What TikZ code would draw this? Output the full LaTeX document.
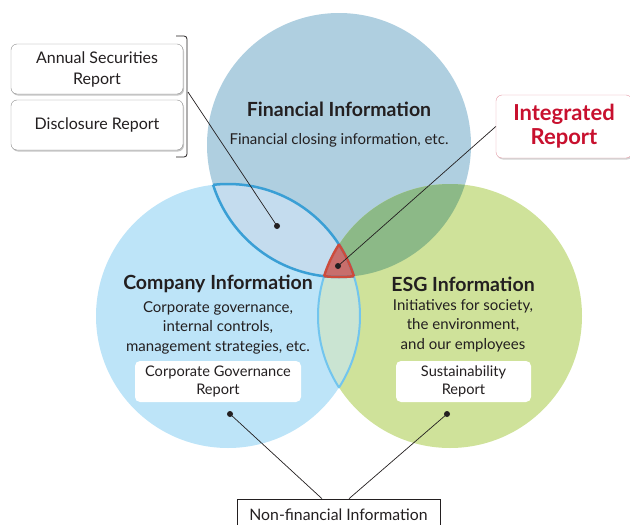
\documentclass[tikz,border=0pt]{standalone}
\usepackage{fontspec}
\setmainfont{Lato}
\usetikzlibrary{positioning,shadows}
\definecolor{finblue}{HTML}{AFCFE0}
\definecolor{compblue}{HTML}{BDE4F8}
\definecolor{esggreen}{HTML}{CFE29A}
\definecolor{fcfill}{HTML}{C4DCEE}
\definecolor{cefill}{HTML}{CAE4D2}
\definecolor{fefill}{HTML}{8CB987}
\definecolor{fcline}{HTML}{3A9FD5}
\definecolor{celine}{HTML}{72C5EE}
\definecolor{trifill}{HTML}{C86E6C}
\definecolor{triline}{HTML}{CE4B3B}
\definecolor{irred}{HTML}{C8102E}
\definecolor{irline}{HTML}{E59AA5}
\definecolor{txt}{HTML}{231F20}

\begin{document}
\begin{tikzpicture}[x=1pt,y=-1pt,
		title/.style={font=\bfseries\fontsize{19.5}{22}\selectfont,text=txt},
		body/.style={font=\fontsize{15}{19.5}\selectfont,align=center,text=txt},
		report/.style={draw=black!45,fill=white,rounded corners=6pt,minimum width=172pt,minimum height=50pt,align=center,
			font=\fontsize{16}{21}\selectfont,text=txt,drop shadow={shadow xshift=1pt,shadow yshift=-1.5pt,opacity=0.45}},
		whitebox/.style={fill=white,rounded corners=5pt,minimum height=41pt,align=center,font=\fontsize{14.6}{18}\selectfont,text=txt},
		intbox/.style={draw=irline,fill=white,rounded corners=6pt,minimum width=136pt,minimum height=63pt,align=center,
			font=\bfseries\fontsize{22}{24}\selectfont,text=irred,drop shadow={shadow xshift=1pt,shadow yshift=-1.5pt,opacity=0.35}},
		nfbox/.style={draw=txt,fill=white,line width=0.6pt,minimum width=203pt,minimum height=32pt,font=\fontsize{15.8}{18}\selectfont,text=txt},
		dot/.style={circle,fill=txt,inner sep=0pt,minimum size=6pt},
		leader/.style={draw=txt,line width=0.7pt}]
	\clip (0,0) rectangle (630,525);
	\coordinate (cf) at (339,145);
	\coordinate (cc) at (228,316);
	\coordinate (ce) at (450,316);
	\def\fincircle{(cf) circle (132pt)}
	\def\compcircle{(cc) circle (132pt)}
	\def\esgcircle{(ce) circle (132pt)}

	% circles and overlaps
	\fill[finblue] \fincircle;
	\fill[compblue] \compcircle;
	\fill[esggreen] \esgcircle;
	\begin{scope}
		\clip \fincircle;
		\fill[fefill] \esgcircle;
		\fill[fcfill] \compcircle;
	\end{scope}
	\begin{scope}
		\clip \compcircle;
		\fill[cefill] \esgcircle;
	\end{scope}
	\begin{scope}
		\clip \fincircle; \clip \compcircle;
		\fill[trifill] \esgcircle;
	\end{scope}
	% lens outlines
	\begin{scope}
		\clip \compcircle;
		\draw[celine,line width=2pt] \esgcircle;
	\end{scope}
	\begin{scope}
		\clip \esgcircle;
		\draw[celine,line width=2pt] \compcircle;
	\end{scope}
	\begin{scope}
		\clip \fincircle;
		\draw[fcline,line width=2.5pt] \compcircle;
	\end{scope}
	\begin{scope}
		\clip \compcircle;
		\draw[fcline,line width=2.5pt] \fincircle;
	\end{scope}
	% triangle outline
	\begin{scope}
		\clip \fincircle; \clip \compcircle;
		\draw[triline,line width=2.5pt] \esgcircle;
	\end{scope}
	\begin{scope}
		\clip \fincircle; \clip \esgcircle;
		\draw[triline,line width=2.5pt] \compcircle;
	\end{scope}
	\begin{scope}
		\clip \compcircle; \clip \esgcircle;
		\draw[triline,line width=2.5pt] \fincircle;
	\end{scope}

	% texts in the circles
	\node[title] (fintitle) at (339,109) {Financial Information};
	\node[body] (finbody) at (339,140) {Financial closing information, etc.};
	\node[title] (comptitle) at (218,284) {Company Information};
	\node[body] (compbody) at (218,327.5) {Corporate governance,\\internal controls,\\management strategies, etc.};
	\node[title] (esgtitle) at (463,284) {ESG Information};
	\node[body] (esgbody) at (463,325.5) {Initiatives for society,\\the environment,\\and our employees};
	\node[whitebox,minimum width=166pt] (cgr) at (218,381.5) {Corporate Governance\\Report};
	\node[whitebox,minimum width=135pt] (susr) at (463.5,381.5) {Sustainability\\Report};

	% reports
	\node[report] (asr) at (97,69) {Annual Securities\\Report};
	\node[report] (dr) at (97,125) {Disclosure Report};
	\node[intbox] (ir) at (564,126.5) {Integrated\\Report};
	\node[nfbox] (nf) at (338.5,515) {Non-financial Information};

	% bracket
	\coordinate (brtop) at (176,36);
	\coordinate (brbot) at (176,157);
	\coordinate (brmid) at (188,92);
	\draw[txt,line width=0.8pt,rounded corners=3pt] (brtop) -- (187,36) -- (187,157) -- (brbot);

	% dots and leaders
	\node[dot] (fcdot) at (277,226) {};
	\node[dot] (tridot) at (338,266) {};
	\node[dot] (cgdot) at (230,414) {};
	\node[dot] (susdot) at (447,414) {};
	\draw[leader] (brmid) -- (fcdot.center);
	\draw[leader] (ir.west) -- (tridot.center);
	\draw[leader] (cgdot.center) -- ([xshift=-16.5pt]nf.north);
	\draw[leader] (susdot.center) -- ([xshift=10.5pt]nf.north);
\end{tikzpicture}
\end{document}
